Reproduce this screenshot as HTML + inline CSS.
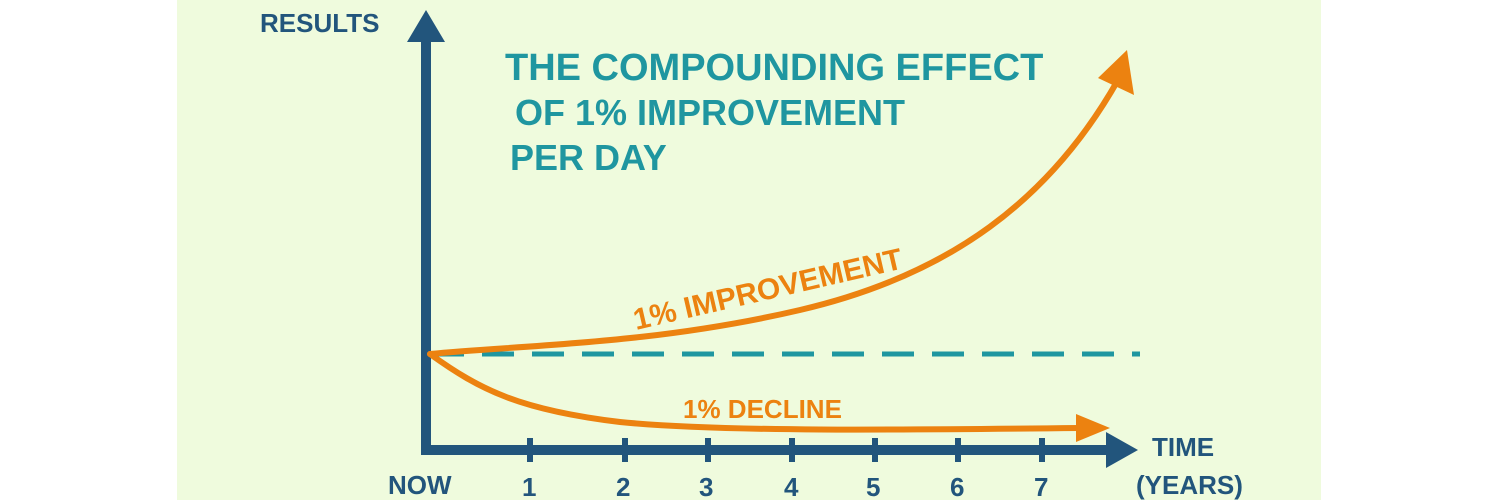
<!DOCTYPE html>
<html><head><style>
html,body{margin:0;padding:0;background:#fff;}
svg{display:block}
text{font-family:"Liberation Sans",sans-serif;font-weight:bold}
</style></head><body>
<svg width="1500" height="500" viewBox="0 0 1500 500">
<rect x="177" y="0" width="1144" height="500" fill="#effbdd"/>
<!-- dashed baseline -->
<line x1="432" y1="354" x2="1140" y2="354" stroke="#1f96a0" stroke-width="5" stroke-dasharray="32,18"/>
<!-- axes -->
<line x1="426" y1="40" x2="426" y2="452" stroke="#22557c" stroke-width="10"/>
<polygon points="426,10 407,42 445,42" fill="#22557c"/>
<line x1="421" y1="450" x2="1110" y2="450" stroke="#22557c" stroke-width="10"/>
<polygon points="1138,450 1106,432 1106,468" fill="#22557c"/>
<g stroke="#22557c" stroke-width="6">
<line x1="530" y1="438" x2="530" y2="462"/><line x1="625" y1="438" x2="625" y2="462"/>
<line x1="708" y1="438" x2="708" y2="462"/><line x1="792" y1="438" x2="792" y2="462"/>
<line x1="875" y1="438" x2="875" y2="462"/><line x1="958" y1="438" x2="958" y2="462"/>
<line x1="1042" y1="438" x2="1042" y2="462"/>
</g>
<!-- curves -->
<path d="M430,354 C520,345 650,345 800,310 C950,275 1050,200 1118,80" fill="none" stroke="#ec8210" stroke-width="6" stroke-linecap="round"/>
<polygon points="1127,50 1098,78 1134,95" fill="#ec8210"/>
<path d="M430,354 C480,390 520,410 620,422 C720,432 900,430 1080,428" fill="none" stroke="#ec8210" stroke-width="6" stroke-linecap="round"/>
<polygon points="1110,428 1076,414 1076,442" fill="#ec8210"/>
<!-- text -->
<text x="260" y="32" fill="#22557c" font-size="26">RESULTS</text>
<g fill="#1f96a0">
<text x="505" y="80" font-size="38">THE COMPOUNDING EFFECT</text>
<text x="515" y="125" font-size="36">OF 1% IMPROVEMENT</text>
<text x="510" y="170" font-size="36">PER DAY</text>
</g>
<text x="636" y="330" fill="#ec8210" font-size="30" transform="rotate(-13 636 330)">1% IMPROVEMENT</text>
<text x="683" y="418" fill="#ec8210" font-size="26">1% DECLINE</text>
<g fill="#22557c" font-size="26">
<text x="388" y="494">NOW</text>
<text x="522" y="496">1</text><text x="616" y="496">2</text><text x="699" y="496">3</text>
<text x="784" y="496">4</text><text x="866" y="496">5</text><text x="950" y="496">6</text><text x="1034" y="496">7</text>
<text x="1152" y="456">TIME</text>
<text x="1136" y="494">(YEARS)</text>
</g>
</svg>
</body></html>
